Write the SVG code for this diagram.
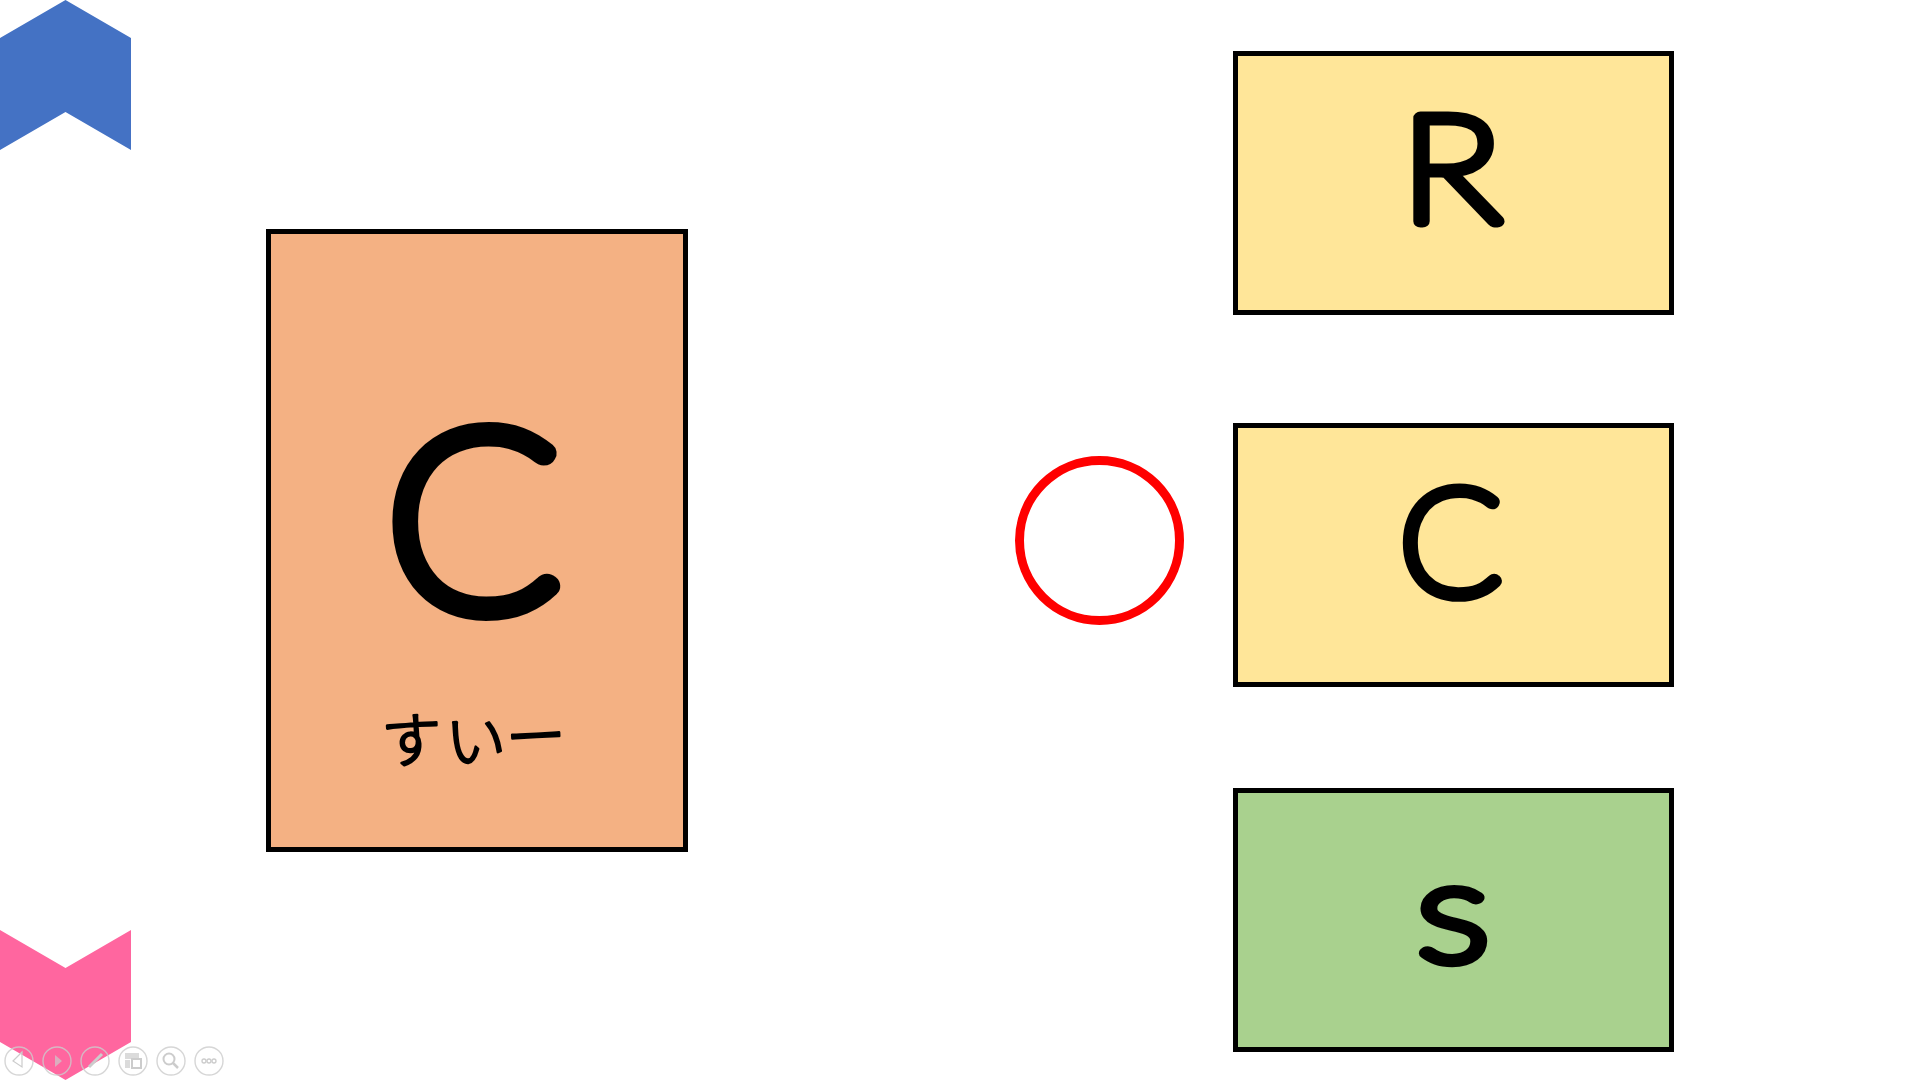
<svg xmlns="http://www.w3.org/2000/svg" width="1920" height="1080" viewBox="0 0 1920 1080">
<style>
.box{stroke:#000;stroke-width:5}
.y{fill:#FFE699}
.l{font-family:"Lato","Noto Sans",sans-serif;font-weight:100;fill:#000;stroke:#000;stroke-linejoin:round;stroke-linecap:round;text-anchor:middle}
.j{font-family:"Noto Sans CJK JP",sans-serif;font-weight:300;font-size:60px;fill:#000;stroke:#000;stroke-width:2.500;stroke-linejoin:round;stroke-linecap:round}
.t{fill:none;stroke:#ccc;stroke-width:1.400;stroke-opacity:.8}
.ti{fill:#ccc;fill-opacity:.7;stroke:none}
</style>
<g id="nav-up"><polygon points="0,38 65.500,0 131,38 131,150 65.500,112 0,150" fill="#4472C4"/></g>
<g id="nav-down"><polygon points="0,930 65.500,968 131,930 131,1042 65.500,1080 0,1042" fill="#FF669F"/></g>
<g id="card-main">
<rect class="box" x="268.500" y="231.500" width="417" height="618" fill="#F4B183"/>
<text class="l" transform="translate(473 608) scale(1.03 1)" font-size="246" stroke-width="22">C</text>
<text class="j" x="383" y="764" transform="rotate(-3 383 764)">す</text>
<text class="j" x="447" y="764" transform="rotate(-3 447 764)">い</text>
<text class="j" x="507" y="760" transform="rotate(-3 507 760)">ー</text>
</g>
<g id="marker"><circle cx="1099.500" cy="540.500" r="80" fill="#fff" stroke="#f00" stroke-width="9"/></g>
<g id="card-r"><rect class="box y" x="1235.500" y="53.500" width="436" height="259"/>
<text class="l" transform="translate(1451 222) scale(1.15 1)" font-size="148" stroke-width="12.500">R</text></g>
<g id="card-c"><rect class="box y" x="1235.500" y="425.500" width="436" height="259"/>
<text class="l" transform="translate(1450.500 594) scale(1.02 1)" font-size="147" stroke-width="13">C</text></g>
<g id="card-s"><rect class="box" x="1235.500" y="790.500" width="436" height="259" fill="#A9D18E"/>
<text class="l" transform="translate(1453 959.500) scale(1.25 1)" font-size="138" stroke-width="12">s</text></g>
<g id="toolbar">
<circle class="t" cx="19" cy="1061" r="14"/><polygon points="22,1052 22,1067 13,1061" fill="none" stroke="#ccc" stroke-width="1.200"/>
<circle class="t" cx="57" cy="1061" r="14"/><polygon class="ti" points="55,1055 62,1061 55,1067"/>
<circle class="t" cx="95" cy="1061" r="14"/><line x1="89" y1="1067" x2="102" y2="1054" stroke="#ccc" stroke-width="3"/>
<circle class="t" cx="133" cy="1061" r="14"/><path class="ti" d="M125 1053h14v6h-14zM125 1060h5v8h-5z"/><rect x="132" y="1059" width="9" height="9" fill="none" stroke="#ccc" stroke-width="2"/>
<circle class="t" cx="171" cy="1061" r="14"/><circle cx="169" cy="1059" r="5.500" fill="none" stroke="#ccc" stroke-width="2"/><line x1="173" y1="1063" x2="178" y2="1068" stroke="#ccc" stroke-width="2.500"/>
<circle class="t" cx="209" cy="1061" r="14"/><g fill="none" stroke="#ccc" stroke-width="1.300"><circle cx="204" cy="1061" r="2"/><circle cx="209" cy="1061" r="2"/><circle cx="214" cy="1061" r="2"/></g>
</g>
</svg>
